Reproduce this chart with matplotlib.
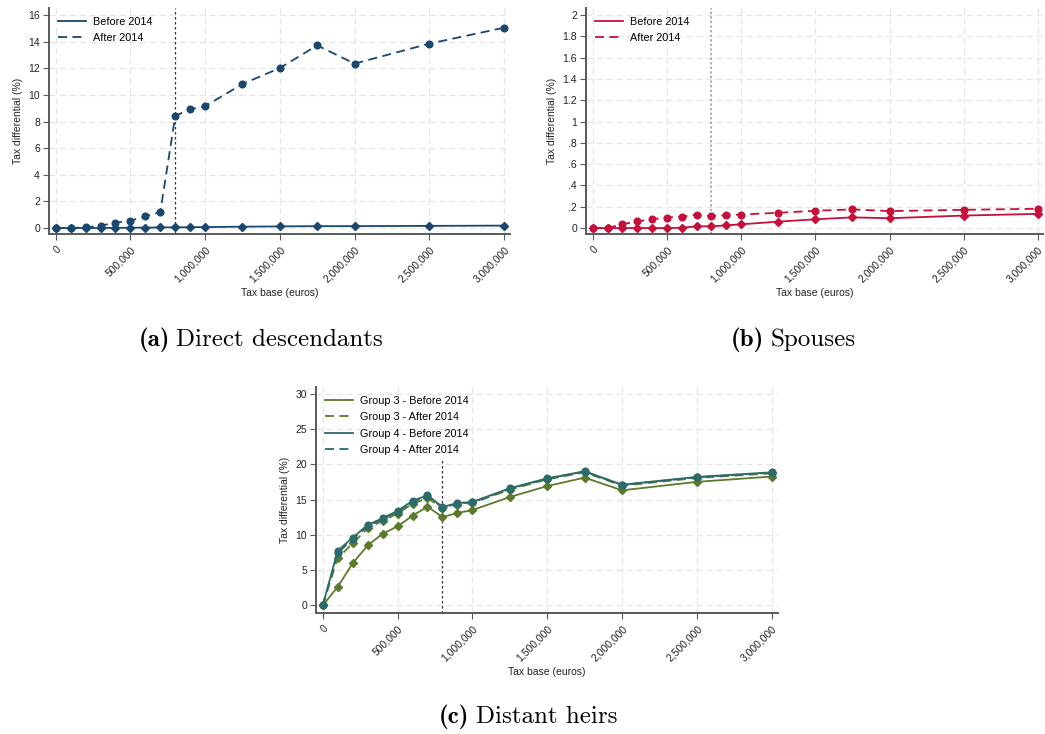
import matplotlib

matplotlib.use("Agg")
import matplotlib.pyplot as plt  # noqa: E402
from matplotlib.lines import Line2D  # noqa: E402

# Tax base grid (euros)
TAX_BASE = [0, 100000, 200000, 300000, 400000, 500000, 600000, 700000, 800000,
            900000, 1000000, 1250000, 1500000, 1750000, 2000000, 2500000, 3000000]

# (a) direct descendants
DESC_BEFORE = [0, 0, 0, 0, 0.01, 0.02, 0.03, 0.04, 0.05, 0.06, 0.07, 0.1, 0.12, 0.14, 0.14, 0.16, 0.18]
DESC_AFTER = [0, 0, 0.05, 0.17, 0.4, 0.55, 0.87, 1.2, 8.42, 8.93, 9.15, 10.82, 12.02,
              13.72, 12.35, 13.85, 15.05]

# (b) spouses
SPOUSE_BEFORE = [0, 0, 0, 0, 0, 0, 0.003, 0.016, 0.016, 0.025, 0.035, 0.06, 0.082,
                 0.1, 0.092, 0.117, 0.133]
SPOUSE_AFTER = [0, 0, 0.035, 0.063, 0.083, 0.098, 0.108, 0.124, 0.111, 0.121, 0.127,
                0.143, 0.162, 0.175, 0.159, 0.171, 0.181]

# (c) distant heirs
G3_BEFORE = [0, 2.63, 5.96, 8.5, 10.14, 11.2, 12.7, 14.0, 12.5, 13.1, 13.5, 15.35, 16.9,
             18.1, 16.3, 17.5, 18.25]
G3_AFTER = [0, 6.7, 8.8, 10.9, 12.0, 13.0, 14.4, 15.2, 13.8, 14.2, 14.5, 16.4, 17.85,
            18.85, 16.95, 18.05, 18.7]
G4_BEFORE = [0, 7.75, 9.6, 11.4, 12.35, 13.4, 14.8, 15.6, 13.95, 14.5, 14.65, 16.6, 18.0,
             19.0, 17.1, 18.2, 18.85]
G4_AFTER = [0, 7.4, 9.4, 11.2, 12.2, 13.3, 14.7, 15.5, 13.85, 14.4, 14.6, 16.5, 17.95,
            18.95, 17.05, 18.15, 18.8]

X_TICKS = [0, 500000, 1000000, 1500000, 2000000, 2500000, 3000000]
X_TICKLABELS = ["0", "500,000", "1,000,000", "1,500,000", "2,000,000", "2,500,000", "3,000,000"]
Y_TICKS_A = [0, 2, 4, 6, 8, 10, 12, 14, 16]
Y_TICKS_B = [0, 0.2, 0.4, 0.6, 0.8, 1.0, 1.2, 1.4, 1.6, 1.8, 2.0]
Y_TICKLABELS_B = ["0", ".2", ".4", ".6", ".8", "1", "1.2", "1.4", "1.6", "1.8", "2"]
Y_TICKS_C = [0, 5, 10, 15, 20, 25, 30]
REFORM = 800000

NAVY, CRANBERRY = "#1a476f", "#c4103a"
OLIVE, TEAL = "#5b7a2b", "#2b6b69"
INK, SPINE, GRID = "#222222", "#5a5a5a", "#e6e6e6"
DASH = (0, (5, 3))

plt.rcParams.update({
    "font.family": ["Liberation Sans", "DejaVu Sans"], "font.size": 7.5,
    "axes.edgecolor": SPINE, "axes.linewidth": 1.4, "axes.labelcolor": INK,
    "xtick.color": SPINE, "ytick.color": SPINE, "xtick.labelcolor": INK,
    "ytick.labelcolor": INK, "xtick.major.size": 4, "ytick.major.size": 4,
    "ytick.major.pad": 2.5,
})

W, H = 1045, 734


def px_axes(fig, left, top, right, bottom):
    return fig.add_axes([left / W, 1 - bottom / H, (right - left) / W, (bottom - top) / H])


def style(ax, yticks, ylabels=None):
    for s in ("top", "right"):
        ax.spines[s].set_visible(False)
    ax.set_xticks(X_TICKS)
    ax.set_xticklabels(X_TICKLABELS, rotation=45, ha="right", va="top",
                       rotation_mode="anchor")
    ax.set_yticks(yticks)
    if ylabels is not None:
        ax.set_yticklabels(ylabels)
    ax.grid(True, color=GRID, lw=0.9, ls=(0, (5, 3)))
    ax.set_axisbelow(True)
    ax.set_xlabel("Tax base (euros)", labelpad=3)
    ax.set_ylabel("Tax differential (%)", labelpad=4)


def legend(ax, entries):
    # legend keys are plain lines, no markers
    handles = [Line2D([], [], color=c, lw=1.3, ls=ls) for c, ls, _ in entries]
    ax.legend(handles, [lab for _, _, lab in entries], loc="upper left", frameon=False,
              handlelength=2.6, handletextpad=0.7, fontsize=7.8,
              borderaxespad=0.4, labelspacing=0.6)


def pair(ax, before, after, color):
    ax.plot(TAX_BASE, before, color=color, lw=1.3, marker="D", ms=4.0, zorder=3)
    ax.plot(TAX_BASE, after, color=color, lw=1.3, ls=DASH, marker="o", ms=4.8, zorder=3)
    legend(ax, [(color, "-", "Before 2014"), (color, DASH, "After 2014")])


def caption(fig, xc, yc, tag, text, size=18):
    r = fig.canvas.get_renderer()
    y = 1 - yc / H
    t1 = fig.text(0, y, f"({tag})", family="cmb10", fontsize=size, va="center")
    t2 = fig.text(0, y, text, family="cmr10", fontsize=size, va="center")
    w1 = t1.get_window_extent(r).width
    w2 = t2.get_window_extent(r).width
    gap = size * 0.35
    x0 = xc - (w1 + gap + w2) / 2
    t1.set_x(x0 / W)
    t2.set_x((x0 + w1 + gap) / W)


fig = plt.figure(figsize=(W / 100, H / 100), dpi=100)

# (a)
ax = px_axes(fig, 49, 8, 510, 234)
pair(ax, DESC_BEFORE, DESC_AFTER, NAVY)
ax.axvline(REFORM, color="#333333", lw=0.9, ls=(0, (2, 2)), zorder=2)
ax.set_xlim(-44800, 3040000)
ax.set_ylim(-0.45, 16.53)
style(ax, Y_TICKS_A)
caption(fig, 261, 340, "a", "Direct descendants")

# (b)
ax = px_axes(fig, 586, 8, 1043, 234)
pair(ax, SPOUSE_BEFORE, SPOUSE_AFTER, CRANBERRY)
ax.axvline(REFORM, color="#999999", lw=1.1, ls=(0, (1.5, 1.5)), zorder=2)
ax.set_xlim(-45000, 3034000)
ax.set_ylim(-0.056, 2.066)
style(ax, Y_TICKS_B, Y_TICKLABELS_B)
caption(fig, 793, 340, "b", "Spouses")

# (c)
ax = px_axes(fig, 316, 387, 778, 613)
ax.plot(TAX_BASE, G3_BEFORE, color=OLIVE, lw=1.3, marker="D", ms=4.0, zorder=3)
ax.plot(TAX_BASE, G3_AFTER, color=OLIVE, lw=1.3, ls=DASH, marker="D", ms=4.0, zorder=3)
ax.plot(TAX_BASE, G4_BEFORE, color=TEAL, lw=1.3, marker="o", ms=4.8, zorder=4)
ax.plot(TAX_BASE, G4_AFTER, color=TEAL, lw=1.3, ls=DASH, marker="o", ms=4.8, zorder=4)
ax.vlines(REFORM, -1.07, 20.8, color="#333333", lw=0.9, ls=(0, (2, 2)), zorder=2)
ax.set_xlim(-45000, 3042000)
ax.set_ylim(-1.07, 30.93)
style(ax, Y_TICKS_C)
legend(ax, [(OLIVE, "-", "Group 3 - Before 2014"), (OLIVE, DASH, "Group 3 - After 2014"),
            (TEAL, "-", "Group 4 - Before 2014"), (TEAL, DASH, "Group 4 - After 2014")])
caption(fig, 528, 717, "c", "Distant heirs")

fig.savefig("out.png", dpi=100, facecolor="white")
